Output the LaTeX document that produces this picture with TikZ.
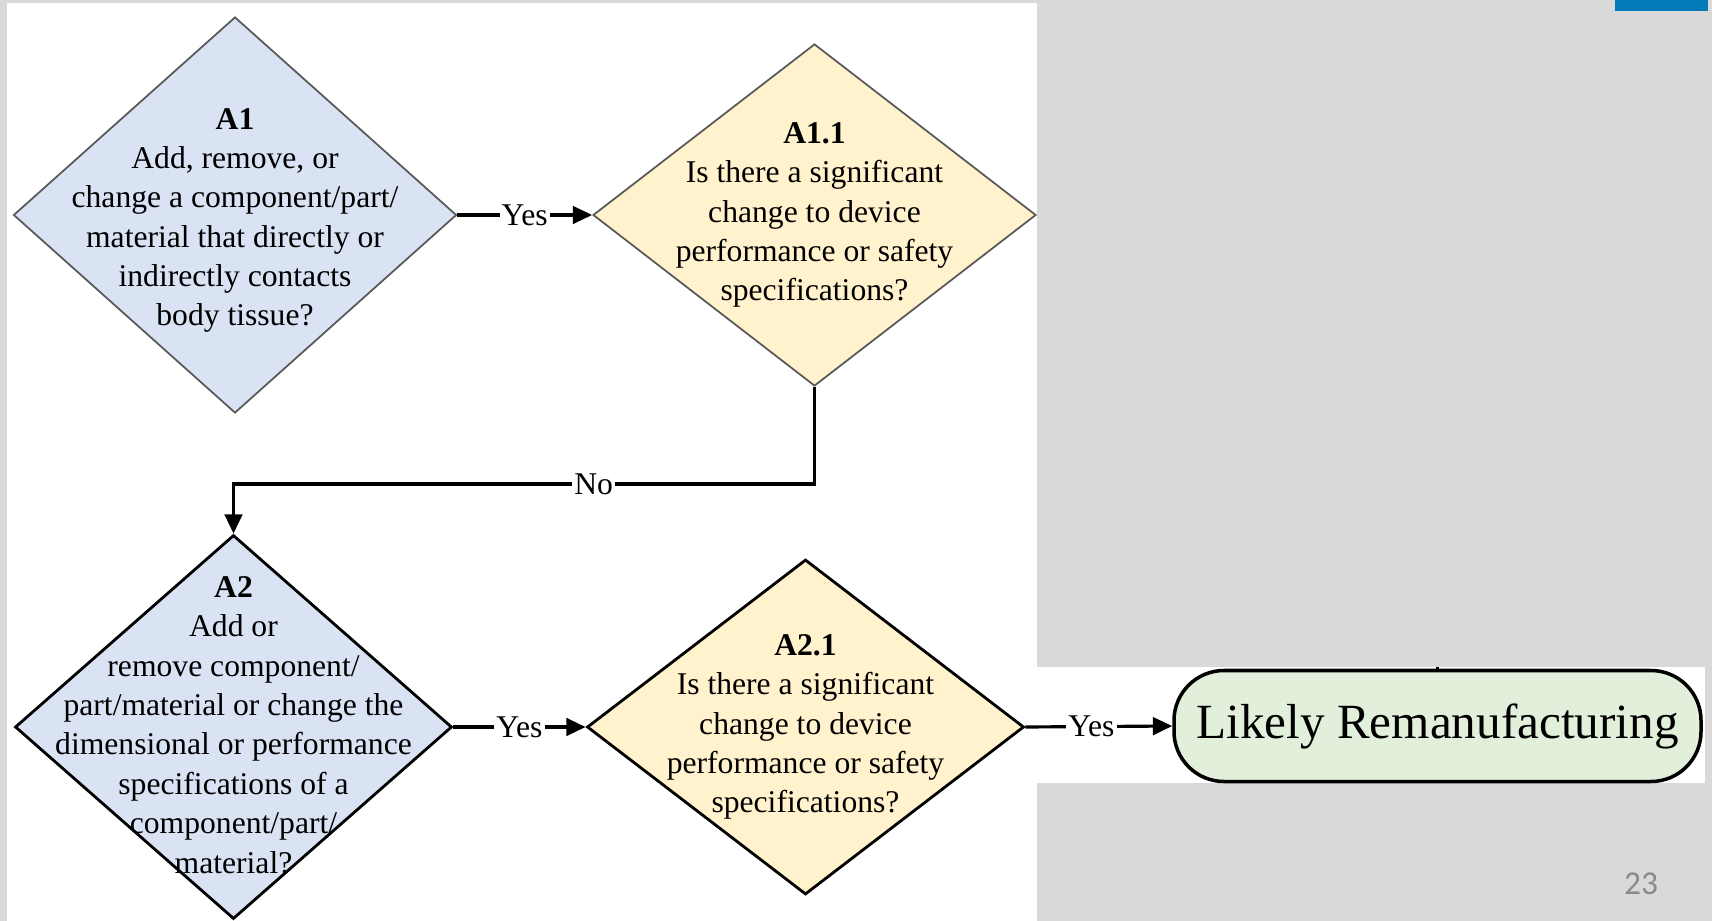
\documentclass[tikz,border=0pt]{standalone}
\usepackage{fontspec}
\setmainfont{Liberation Serif}
\newfontfamily\slidefont{Carlito}
\usepackage{xcolor}
\usetikzlibrary{calc}
\usetikzlibrary{arrows.meta,shapes.geometric}

\definecolor{slidegray}{HTML}{D9D9D9}
\definecolor{qblue}{HTML}{DAE3F3}
\definecolor{qyellow}{HTML}{FFF2CC}
\definecolor{endgreen}{HTML}{E2EFDA}
\definecolor{tabblue}{HTML}{007BB8}
\definecolor{pagegray}{HTML}{8A8A8A}

\begin{document}
\begin{tikzpicture}[
  decision/.style={draw,diamond,inner sep=0pt},
  upper/.style={decision,draw=black!65,line width=0.5pt},
  lower/.style={decision,draw=black,line width=0.8pt},
  qtext/.style={align=center,font=\fontsize{9}{11.2}\selectfont},
  flow/.style={-{Triangle[length=5.5pt,width=5pt]},line width=0.9pt},
  answer/.style={fill=white,inner sep=0.6pt,font=\fontsize{9}{10}\selectfont}
]
\useasboundingbox (0,0) rectangle (17.12,-9.21);

% Slide background
\fill[slidegray] (0,0) rectangle (17.12,-9.21);
\fill[white] (0.07,-0.03) rectangle (10.37,-9.21);
\fill[white] (10.36,-6.67) rectangle (17.05,-7.83);
\fill[tabblue] (16.15,0) rectangle (17.08,-0.11);

% A1 diamond
\node[upper,fill=qblue,minimum width=4.43cm,minimum height=3.96cm] (a1) at (2.35,-2.15) {};
\node[qtext] (a1text) at ($(a1)+(0,-0.055)$) {
\textbf{A1}\\
Add, remove, or\\
change a component/part/\\
material that directly or\\
indirectly contacts\\
body tissue?
};

% A1.1 diamond
\node[upper,fill=qyellow,minimum width=4.43cm,minimum height=3.42cm] (a11) at (8.145,-2.15) {};
\node[qtext] (a11text) at (a11) {
\textbf{A1.1}\\
Is there a significant\\
change to device\\
performance or safety\\
specifications?
};

% A2 diamond
\node[lower,fill=qblue,minimum width=4.37cm,minimum height=3.84cm] (a2) at (2.335,-7.27) {};
\node[qtext] (a2text) at ($(a2)+(0,0.02)$) {
\textbf{A2}\\
Add or\\
remove component/\\
part/material or change the\\
dimensional or performance\\
specifications of a\\
component/part/\\
material?
};

% A2.1 diamond
\node[lower,fill=qyellow,minimum width=4.37cm,minimum height=3.35cm] (a21) at (8.055,-7.27) {};
\node[qtext] (a21text) at (a21) {
\textbf{A2.1}\\
Is there a significant\\
change to device\\
performance or safety\\
specifications?
};

% Result box
\node[draw,rounded corners=0.5cm,fill=endgreen,line width=1pt,minimum width=5.27cm,minimum height=1.11cm,font=\fontsize{14}{16}\selectfont] (likely) at (14.375,-7.26) {Likely Remanufacturing};
\coordinate (stub) at (14.375,-6.67);
\draw[line width=0.6pt] (likely.north) -- (stub);

% Arrows
\coordinate (turn) at (2.335,-4.84);
\draw[flow] (a1.east) -- node[answer] {Yes} (a11.west);
\draw[flow] (a11.south) |- node[answer,pos=0.69] {No} (turn) -- (a2.north);
\draw[flow] (a2.east) -- node[answer] {Yes} (a21.west);
\draw[flow] (a21.east) -- node[answer,pos=0.45] {Yes} (likely.west);

% Page number
\node[text=pagegray,font=\slidefont\fontsize{9.5}{11}\selectfont] (pagenum) at (16.41,-8.84) {23};
\end{tikzpicture}
\end{document}
